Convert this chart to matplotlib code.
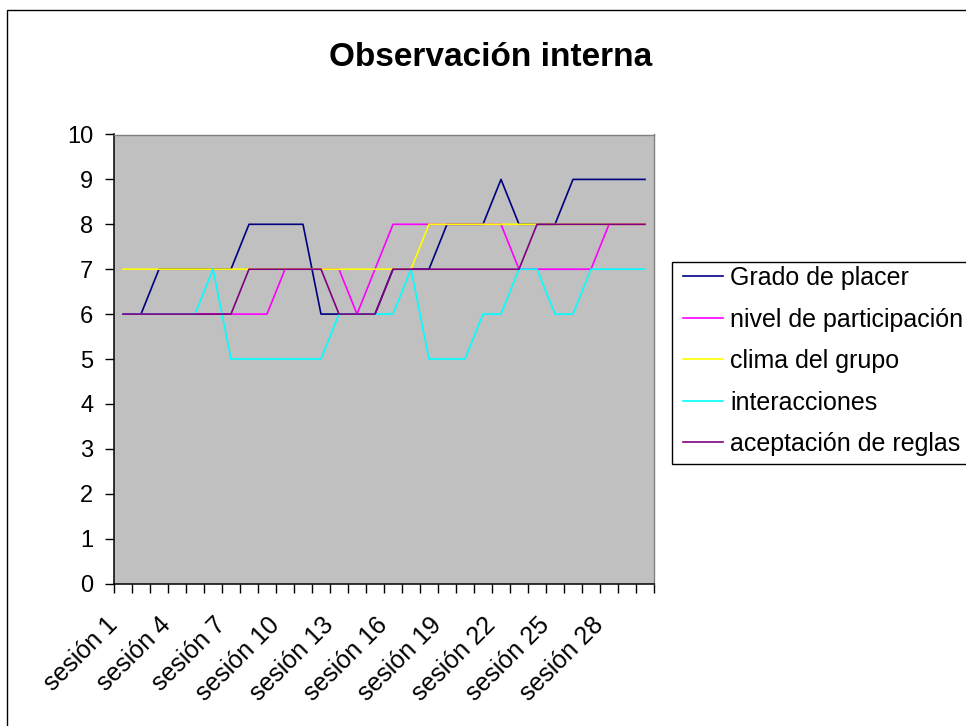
import numpy as np
import matplotlib
matplotlib.use("Agg")
import matplotlib.pyplot as plt
import matplotlib.transforms as mtransforms
from matplotlib.patches import Rectangle

plt.rcParams['font.family'] = ['Liberation Sans', 'DejaVu Sans']

# datos (30 sesiones)
sesiones = ['sesión %d' % i for i in range(1, 31)]
grado_placer = [6, 6, 7, 7, 7, 7, 7, 8, 8, 8, 8, 6, 6, 6, 6, 7, 7, 7, 8, 8, 8, 9, 8, 8, 8, 9, 9, 9, 9, 9]
nivel_participacion = [6, 6, 6, 6, 6, 6, 6, 6, 6, 7, 7, 7, 7, 6, 7, 8, 8, 8, 8, 8, 8, 8, 7, 7, 7, 7, 7, 8, 8, 8]
clima_grupo = [7, 7, 7, 7, 7, 7, 7, 7, 7, 7, 7, 7, 7, 7, 7, 7, 7, 8, 8, 8, 8, 8, 8, 8, 8, 8, 8, 8, 8, 8]
interacciones = [6, 6, 6, 6, 6, 7, 5, 5, 5, 5, 5, 5, 6, 6, 6, 6, 7, 5, 5, 5, 6, 6, 7, 7, 6, 6, 7, 7, 7, 7]
aceptacion_reglas = [6, 6, 6, 6, 6, 6, 6, 7, 7, 7, 7, 7, 6, 6, 6, 7, 7, 7, 7, 7, 7, 7, 7, 8, 8, 8, 8, 8, 8, 8]

series = [
    ('Grado de placer', grado_placer, '#000080'),
    ('nivel de participación', nivel_participacion, '#FF00FF'),
    ('clima del grupo', clima_grupo, '#FFFF00'),
    ('interacciones', interacciones, '#00FFFF'),
    ('aceptación de reglas', aceptacion_reglas, '#800080'),
]

W, H = 966, 726
fig = plt.figure(figsize=(W / 100, H / 100), dpi=100)
fig.patch.set_facecolor('white')

# marco exterior del grafico (se sale por la derecha y abajo)
fig.add_artist(Rectangle((7 / W, -0.1), 2.0, 1 - 10 / H + 0.1, transform=fig.transFigure,
                         fill=False, edgecolor='black', linewidth=1.0))

ax = fig.add_axes([114 / W, 1 - 583.5 / H, 540 / W, 449 / H])
ax.set_facecolor('#C0C0C0')

x = np.arange(len(sesiones)) + 0.5
for nombre, valores, color in series:
    ax.plot(x, valores, color=color, linewidth=1.2, label=nombre)

ax.set_xlim(0, len(sesiones))
ax.set_ylim(0, 10)
ax.set_yticks(range(0, 11))
ax.tick_params(axis='y', direction='out', length=6.5, width=1, pad=8.5, labelsize=17)

# marcas entre categorias, etiquetas cada 3 sesiones
ax.set_xticks(np.arange(len(sesiones) + 1))
ax.set_xticklabels([])
ax.tick_params(axis='x', which='major', direction='out', length=6.5, width=1)
ax.set_xticks(x[::3], minor=True)
ax.set_xticklabels(sesiones[::3], minor=True, rotation=45, ha='right', va='top',
                   rotation_mode='anchor', fontsize=18)
ax.tick_params(axis='x', which='minor', length=0, pad=21)
desplaza = mtransforms.ScaledTranslation(-18 / 100, 0, fig.dpi_scale_trans)
for lab in ax.get_xticklabels(minor=True):
    lab.set_transform(lab.get_transform() + desplaza)

for lado in ['left', 'bottom']:
    ax.spines[lado].set_color('black')
    ax.spines[lado].set_linewidth(1.1)
for lado in ['top', 'right']:
    ax.spines[lado].set_color('#808080')
    ax.spines[lado].set_linewidth(1.0)

fig.text(491 / W, 1 - 66 / H, 'Observación interna', ha='center', va='baseline',
         fontsize=24, fontweight='bold')

# caja de la leyenda dibujada aparte (se corta en el borde derecho)
fig.add_artist(Rectangle((672 / W, 1 - 464 / H), 1.0, (464 - 262) / H, transform=fig.transFigure,
                         fill=False, edgecolor='black', linewidth=1.0))
leg = fig.legend(loc='upper left', bbox_to_anchor=(683 / W, 1 - 266 / H), fontsize=18,
                 frameon=False, handlelength=1.6, handletextpad=0.28,
                 labelspacing=0.7, borderpad=0, borderaxespad=0)
for linea in leg.get_lines():
    linea.set_linewidth(1.2)

fig.savefig('out.png', dpi=100)
